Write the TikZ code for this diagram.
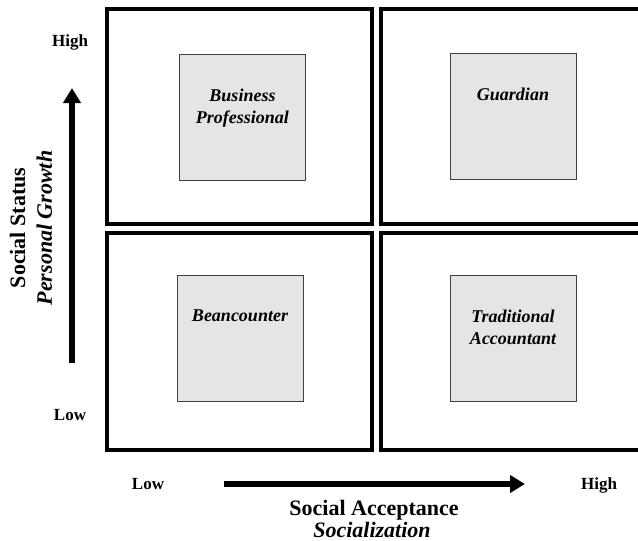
\documentclass[tikz,border=0pt]{standalone}
\usepackage{fontspec}
\setmainfont{Liberation Serif}
\usetikzlibrary{arrows.meta,positioning}

\begin{document}
\begin{tikzpicture}[x=1pt,y=-1pt,
  quad/.style={draw,line width=3.2pt,inner sep=0pt},
  role/.style={draw=black!75,line width=1pt,fill=black!10,minimum width=126pt,minimum height=126pt,inner sep=0pt},
  rolelbl/.style={font=\fontsize{18}{22}\selectfont\bfseries\itshape,align=center,inner sep=0pt,anchor=north},
  tick/.style={font=\fontsize{17}{20}\selectfont\bfseries,inner sep=0pt,anchor=base},
  axistitle/.style={font=\fontsize{22}{23}\selectfont\bfseries,inner sep=0pt,anchor=base},
  axisarrow/.style={line width=6pt,-{Triangle[length=15pt,width=17pt]}}]
  \useasboundingbox (0,0) rectangle (638,541);
  \clip (0,0) rectangle (638,541);
  % quadrants
  \node[quad,minimum width=265pt,minimum height=215pt] (qtl) at (239.5,116.5) {};
  \node[quad,minimum width=267pt,minimum height=215pt] (qtr) at (514.5,116.5) {};
  \node[quad,minimum width=265pt,minimum height=217pt] (qbl) at (239.5,341.5) {};
  \node[quad,minimum width=267pt,minimum height=217pt] (qbr) at (514.5,341.5) {};
  % roles
  \node[role] (bp) at (242.5,117) {};
  \node[role] (gd) at (513,116) {};
  \node[role] (bc) at (240,338) {};
  \node[role] (ta) at (513,338) {};
  \node[rolelbl] (bplbl) at ([yshift=-35.5pt]bp.north) {Business\\Professional};
  \node[rolelbl] (gdlbl) at ([yshift=-35.5pt]gd.north) {Guardian};
  \node[rolelbl] (bclbl) at ([yshift=-35.5pt]bc.north) {Beancounter};
  \node[rolelbl] (talbl) at ([yshift=-35.5pt]ta.north) {Traditional\\Accountant};
  % vertical axis
  \node[tick] (yhi) at (70,46) {High};
  \node[tick] (ylo) at (70,420) {Low};
  \coordinate (ystart) at (72,363);
  \coordinate (yend) at (72,88);
  \draw[axisarrow] (ystart) -- (yend);
  \node[axistitle,rotate=90] (ytitle) at (25,228) {Social Status};
  \node[axistitle,rotate=90,font=\fontsize{22}{23}\selectfont\bfseries\itshape] (ysub) at (52,228) {Personal Growth};
  % horizontal axis
  \node[tick] (xlo) at (148,489) {Low};
  \node[tick] (xhi) at (599,489) {High};
  \coordinate (xstart) at (224,484);
  \coordinate (xend) at (525,484);
  \draw[axisarrow] (xstart) -- (xend);
  \node[axistitle] (xtitle) at (374,515) {Social Acceptance};
  \node[axistitle,font=\fontsize{22}{23}\selectfont\bfseries\itshape] (xsub) at (372,537) {Socialization};
\end{tikzpicture}
\end{document}
